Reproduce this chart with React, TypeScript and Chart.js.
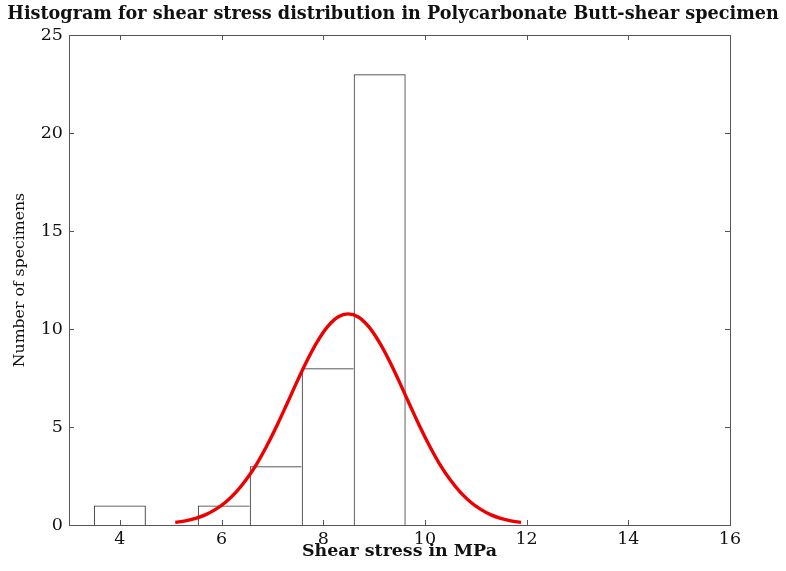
import React, { useEffect, useRef } from "react";
import { Chart, registerables } from "chart.js";

Chart.register(...registerables);

const chartTitle = "Histogram for shear stress distribution in Polycarbonate Butt-shear specimen";
const xAxisTitle = "Shear stress in MPa";
const yAxisTitle = "Number of specimens";

// histogram bin centres (MPa) and counts
const binCenters = [4.0, 5.022, 6.044, 7.066, 8.088, 9.11];
const binCounts = [1, 0, 1, 3, 8, 23];

// fitted curve
const curveX = [5.09, 5.29, 5.49, 5.69, 5.89, 6.09, 6.29, 6.49, 6.69, 6.89, 7.09, 7.29, 7.49, 7.69, 7.89, 8.09, 8.29, 8.49,
  8.69, 8.89, 9.09, 9.29, 9.49, 9.69, 9.89, 10.09, 10.29, 10.49, 10.69, 10.89, 11.09, 11.29, 11.49, 11.69, 11.89];
const curveY = [0.13, 0.21, 0.34, 0.53, 0.81, 1.19, 1.69, 2.33, 3.11, 4.04, 5.08, 6.2, 7.34, 8.43, 9.38, 10.13, 10.61, 10.77,
  10.61, 10.13, 9.38, 8.43, 7.34, 6.2, 5.08, 4.04, 3.11, 2.33, 1.69, 1.19, 0.81, 0.53, 0.34, 0.21, 0.13];

const xTicks = [4, 6, 8, 10, 12, 14, 16];
const yTicks = [0, 5, 10, 15, 20, 25];
const xRange = [3, 16];
const yRange = [0, 25];

const FONT = "'DejaVu Serif', serif";

const boxPlugin = {
  id: "boxTicks",
  afterDraw(chart: any) {
    const { ctx, chartArea } = chart;
    const { left, right, top, bottom } = chartArea;
    const xs = chart.scales.x;
    const ys = chart.scales.y;
    const len = 5;
    ctx.save();
    ctx.strokeStyle = "#555";
    ctx.lineWidth = 1;
    ctx.strokeRect(Math.round(left) + 0.5, Math.round(top) + 0.5, Math.round(right - left), Math.round(bottom - top));
    ctx.beginPath();
    xTicks.forEach((v) => {
      const px = Math.round(xs.getPixelForValue(v)) + 0.5;
      ctx.moveTo(px, bottom);
      ctx.lineTo(px, bottom - len);
      ctx.moveTo(px, top);
      ctx.lineTo(px, top + len);
    });
    yTicks.forEach((v) => {
      const py = Math.round(ys.getPixelForValue(v)) + 0.5;
      ctx.moveTo(left, py);
      ctx.lineTo(left + len, py);
      ctx.moveTo(right, py);
      ctx.lineTo(right - len, py);
    });
    ctx.stroke();
    ctx.restore();
  },
};

export default function App() {
  const ref = useRef<HTMLCanvasElement | null>(null);
  useEffect(() => {
    document.body.style.margin = "0";
    const canvas = ref.current;
    if (!canvas) return;
    const chart = new Chart(canvas, {
      type: "bar",
      data: {
        datasets: [
          {
            type: "line",
            label: "fit",
            data: curveX.map((x, i) => ({ x, y: curveY[i] })),
            borderColor: "#ee0000",
            borderWidth: 3.4,
            pointRadius: 0,
            tension: 0.4,
            fill: false,
            order: 0,
          } as any,
          {
            type: "bar",
            label: "hist",
            data: binCenters.map((x, i) => ({ x, y: binCounts[i] })),
            backgroundColor: "rgba(255,255,255,0)",
            borderColor: "#333",
            borderWidth: (c: any) => {
              const i = c.dataIndex;
              const next = i + 1 < binCounts.length ? binCounts[i + 1] : -1;
              return { top: 1, left: 1, bottom: 0, right: next < binCounts[i] ? 1 : 0 };
            },
            borderSkipped: false,
            inflateAmount: 0,
            barPercentage: 1,
            categoryPercentage: 1,
            order: 1,
          } as any,
        ],
      },
      options: {
        animation: false,
        responsive: false,
        events: [],
        layout: { padding: 0 },
        plugins: {
          legend: { display: false },
          tooltip: { enabled: false },
          title: {
            display: true,
            text: chartTitle,
            color: "#111",
            font: { family: FONT, size: 17.6, weight: "bold", lineHeight: 1.2 },
            padding: { top: 4, bottom: 9.9 },
          },
        },
        scales: {
          x: {
            type: "linear",
            min: xRange[0],
            max: xRange[1],
            offset: false,
            grid: { display: false, drawTicks: false },
            border: { display: false },
            afterBuildTicks: (s: any) => {
              s.ticks = xTicks.map((v) => ({ value: v }));
            },
            afterFit: (s: any) => {
              s.height = 46;
            },
            ticks: {
              color: "#111",
              padding: 4,
              maxRotation: 0,
              font: { family: FONT, size: 17.5 },
            },
            title: {
              display: true,
              text: xAxisTitle,
              color: "#111",
              font: { family: FONT, size: 17.4, weight: "bold", lineHeight: 1.2 },
              padding: { top: 0, bottom: 9 },
            },
          },
          y: {
            type: "linear",
            position: "left",
            min: yRange[0],
            max: yRange[1],
            grid: { display: false, drawTicks: false },
            border: { display: false },
            afterBuildTicks: (s: any) => {
              s.ticks = yTicks.map((v) => ({ value: v }));
            },
            afterFit: (s: any) => {
              s.width = 69;
            },
            ticks: {
              color: "#111",
              padding: 6,
              font: { family: FONT, size: 17.5 },
            },
            title: {
              display: true,
              text: yAxisTitle,
              color: "#111",
              font: { family: FONT, size: 15.7, weight: "normal", lineHeight: 1.2 },
              padding: { top: 10.5, bottom: 0 },
            },
          },
          yRight: {
            type: "linear",
            position: "right",
            min: yRange[0],
            max: yRange[1],
            grid: { display: false, drawTicks: false },
            border: { display: false },
            ticks: { display: false },
            afterFit: (s: any) => {
              s.width = 56;
            },
          },
        },
      },
      plugins: [boxPlugin],
    } as any);
    return () => chart.destroy();
  }, []);
  return (
    <div style={{ width: 786, height: 571, background: "#fff" }}>
      <canvas ref={ref} width={786} height={571} style={{ display: "block" }} />
    </div>
  );
}
